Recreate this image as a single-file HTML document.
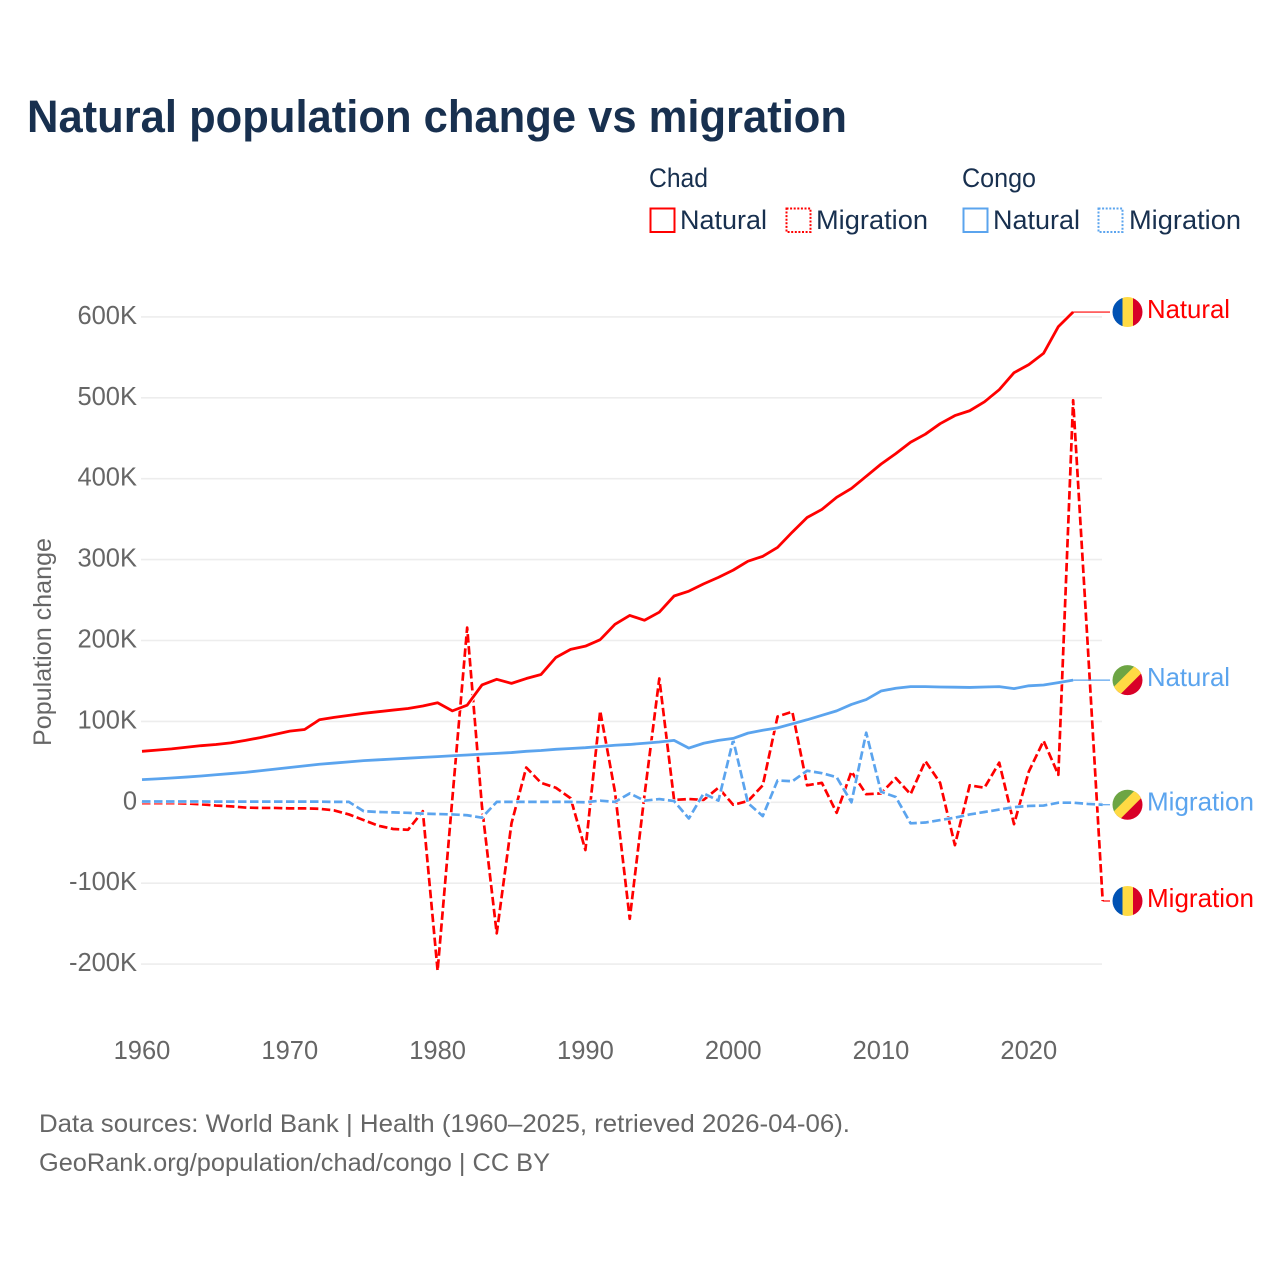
<!DOCTYPE html>
<html lang="en">
<head>
<meta charset="utf-8">
<title>Natural population change vs migration</title>
<style>
html,body{margin:0;padding:0;background:#fff;}
svg{display:block;font-family:"Liberation Sans",Arial,sans-serif;}
</style>
</head>
<body>
<svg id="chart" width="1280" height="1280" viewBox="0 0 1280 1280" xmlns="http://www.w3.org/2000/svg">
  <defs>
    <clipPath id="flag-clip"><circle cx="0" cy="0" r="15"></circle></clipPath>
  </defs>
  <rect width="1280" height="1280" fill="#fff"></rect>
  <text x="27" y="132" font-size="45" font-weight="700" fill="#18304f" textLength="820" lengthAdjust="spacingAndGlyphs">Natural population change vs migration</text>

  <g font-size="26.5" fill="#18304f">
    <text x="649" y="187" textLength="59" lengthAdjust="spacingAndGlyphs">Chad</text>
    <text x="962" y="187" textLength="74" lengthAdjust="spacingAndGlyphs">Congo</text>
    <g>
      <rect x="650.5" y="208.5" width="24" height="23.5" fill="#fff" stroke="#ff0000" stroke-width="2"></rect>
      <text x="680" y="229" textLength="87" lengthAdjust="spacingAndGlyphs">Natural</text>
    </g>
    <g>
      <rect x="786.5" y="208.5" width="24" height="23.5" fill="#fff" stroke="#ff0000" stroke-width="2" stroke-dasharray="2,1.6"></rect>
      <text x="816" y="229" textLength="112" lengthAdjust="spacingAndGlyphs">Migration</text>
    </g>
    <g>
      <rect x="963.5" y="208.5" width="24" height="23.5" fill="#fff" stroke="#5ba4ee" stroke-width="2"></rect>
      <text x="993" y="229" textLength="87" lengthAdjust="spacingAndGlyphs">Natural</text>
    </g>
    <g>
      <rect x="1098.5" y="208.5" width="24" height="23.5" fill="#fff" stroke="#5ba4ee" stroke-width="2" stroke-dasharray="2,1.6"></rect>
      <text x="1129" y="229" textLength="112" lengthAdjust="spacingAndGlyphs">Migration</text>
    </g>
  </g>

  <g id="grid"></g>
  <g id="yticks" font-size="25.5" fill="#666"></g>
  <g id="xticks" font-size="25.5" fill="#666"></g>
  <text transform="translate(51,746) rotate(-90)" font-size="25" fill="#666" textLength="208" lengthAdjust="spacingAndGlyphs">Population change</text>
  <g id="series"></g>
  <g id="end-labels"></g>

  <g font-size="25" fill="#666">
    <text x="39" y="1132" textLength="811" lengthAdjust="spacingAndGlyphs">Data sources: World Bank | Health (1960–2025, retrieved 2026-04-06).</text>
    <text x="39" y="1171" textLength="511" lengthAdjust="spacingAndGlyphs">GeoRank.org/population/chad/congo | CC BY</text>
  </g>
</svg>

<script>
const startYear = 1960;
const xTickYears = [1960, 1970, 1980, 1990, 2000, 2010, 2020];
const yTickValues = [-200, -100, 0, 100, 200, 300, 400, 500, 600];
const yTickLabels = ['-200K', '-100K', '0', '100K', '200K', '300K', '400K', '500K', '600K'];

const chadNatural = [63,64.5,66,68,70,71.5,73.5,76.5,80,84,88,90,102,105,107.5,110,112,114,116,119,123,113,120,145,152,147,153,158,179,189,193,201,220,231,225,235,255,261,270,278,287,298,304,315,334,352,362,377,388,403,418,431,445,455,468,478,484,495,510,531,541,555,588,606];
const chadMigration = [-1,-1,-1,-1.5,-2.5,-4,-5,-6.5,-7,-7,-7.5,-7.5,-8,-10,-15,-22,-29,-33,-34,-11,-208,5,216,-5,-162,-26,43,24,18,5,-59,113,13,-144,9,153,3,4,3,18,-3,1.5,21,106,112,21,24,-13,38,10,11,30,10,51,24,-53,21,18,49,-27,38,76,34,497,190,-122];
const congoNatural = [28,29,30,31.2,32.5,34,35.5,37,39,41,43,45,47,48.5,50,51.5,52.5,53.5,54.5,55.5,56.5,57.5,58.5,59.5,60.5,61.5,63,64,65.5,66.5,67.5,69,70.5,71.5,73,74.5,76.5,67,73,76.5,79,85.5,89,92,97,102,107.5,113,121,127,137.5,141,143,143,142.5,142.3,142,142.5,143,140.5,144,145,148,151];
const congoMigration = [1,1,1,1,1,0.8,0.8,0.8,0.8,0.8,0.8,0.8,0.8,0.5,0.5,-11,-12,-12.5,-13,-14,-14.5,-15,-16,-19,0.5,0.5,0.5,0.5,0.5,0.5,0,2,0.5,11,2,4,1.5,-20,11,2,77,-1,-17,27,26,39,36,31,0,86,13,6.5,-26,-25,-22,-19,-15,-12,-9,-6,-4.5,-4,-0.5,-0.5,-2,-3];

const seriesList = [
  {id:'chad-migration', values:chadMigration, color:'#ff0000', dashed:true, label:'Migration', flag:'chad', width:107},
  {id:'congo-migration', values:congoMigration, color:'#5ba4ee', dashed:true, label:'Migration', flag:'congo', width:107},
  {id:'chad-natural', values:chadNatural, color:'#ff0000', dashed:false, label:'Natural', flag:'chad', width:83},
  {id:'congo-natural', values:congoNatural, color:'#5ba4ee', dashed:false, label:'Natural', flag:'congo', width:83}
];

const NS = 'http://www.w3.org/2000/svg';
function xScale(year) { return 142 + (year - startYear) * 14.78; }
function yScale(value) { return 802.3 - value * 0.809; }
function make(tag, parent) {
  const el = document.createElementNS(NS, tag);
  parent.appendChild(el);
  return el;
}

const grid = document.getElementById('grid');
const yticks = document.getElementById('yticks');
yTickValues.forEach(function (v, i) {
  const line = make('line', grid);
  
  
  line.setAttribute('x1', 141);
  line.setAttribute('x2', 1102);
  line.setAttribute('y1', yScale(v));
  line.setAttribute('y2', yScale(v));
  line.setAttribute('stroke', '#ededed');
  line.setAttribute('stroke-width', 1.6);
  const t = make('text', yticks);
  
  
  t.setAttribute('x', 137);
  t.setAttribute('y', yScale(v) + 7);
  t.setAttribute('text-anchor', 'end');
  t.textContent = yTickLabels[i];
});

const xticks = document.getElementById('xticks');
xTickYears.forEach(function (year) {
  const t = make('text', xticks);
  
  
  t.setAttribute('x', xScale(year));
  t.setAttribute('y', 1059);
  t.setAttribute('text-anchor', 'middle');
  t.textContent = year;
});

const seriesGroup = document.getElementById('series');
seriesList.forEach(function (s) {
  const d = s.values.map(function (v, i) {
    return (i ? 'L' : 'M') + xScale(startYear + i).toFixed(2) + ' ' + yScale(v).toFixed(2);
  }).join(' ');
  const halo = make('path', seriesGroup);
  
  
  halo.setAttribute('d', d);
  halo.setAttribute('fill', 'none');
  halo.setAttribute('stroke', '#fff');
  halo.setAttribute('stroke-width', s.dashed ? 3.8 : 4.6);
  halo.setAttribute('stroke-linejoin', 'round');
  const path = make('path', seriesGroup);
  
  
  path.setAttribute('d', d);
  path.setAttribute('fill', 'none');
  path.setAttribute('stroke', s.color);
  path.setAttribute('stroke-width', s.dashed ? 2.7 : 2.8);
  path.setAttribute('stroke-linejoin', 'round');
  if (s.dashed) {
    path.setAttribute('stroke-dasharray', '8.5,3.5');
  }
});

const labels = document.getElementById('end-labels');
function addStripe(parent, name, d, fill) {
  const p = make('path', parent);
  
  
  p.setAttribute('d', d);
  p.setAttribute('fill', fill);
}
seriesList.forEach(function (s) {
  const lastIndex = s.values.length - 1;
  const lastX = xScale(startYear + lastIndex);
  const lastY = yScale(s.values[lastIndex]);

  const conn = make('line', labels);
  
  
  conn.setAttribute('x1', lastX);
  conn.setAttribute('x2', 1110);
  conn.setAttribute('y1', lastY);
  conn.setAttribute('y2', lastY);
  conn.setAttribute('stroke', s.color);
  conn.setAttribute('stroke-width', 1.2);

  const flag = make('g', labels);
  
  
  flag.setAttribute('transform', 'translate(1127.5,' + lastY + ')');
  const inner = make('g', flag);
  inner.setAttribute('clip-path', 'url(#flag-clip)');
  if (s.flag === 'chad') {
    addStripe(inner, 'flag-stripe-blue', 'M-16 -16H-5V16H-16Z', '#0052b4');
    addStripe(inner, 'flag-stripe-yellow', 'M-5 -16H5.5V16H-5Z', '#ffda44');
    addStripe(inner, 'flag-stripe-red', 'M5.5 -16H16V16H5.5Z', '#d80027');
  } else {
    addStripe(inner, 'flag-field-green', 'M-16 -16H16L-16 16Z', '#6da544');
    addStripe(inner, 'flag-field-red', 'M16 16H-16L16 -16Z', '#d80027');
    addStripe(inner, 'flag-band-yellow', 'M9 -16L16 -9L-9 16L-16 9Z', '#ffda44');
  }

  const t = make('text', labels);
  
  
  t.setAttribute('x', 1147);
  t.setAttribute('y', lastY + 6);
  t.setAttribute('font-size', 26);
  t.setAttribute('fill', s.color);
  t.setAttribute('textLength', s.width);
  t.setAttribute('lengthAdjust', 'spacingAndGlyphs');
  t.textContent = s.label;
});
</script>
</body>
</html>
